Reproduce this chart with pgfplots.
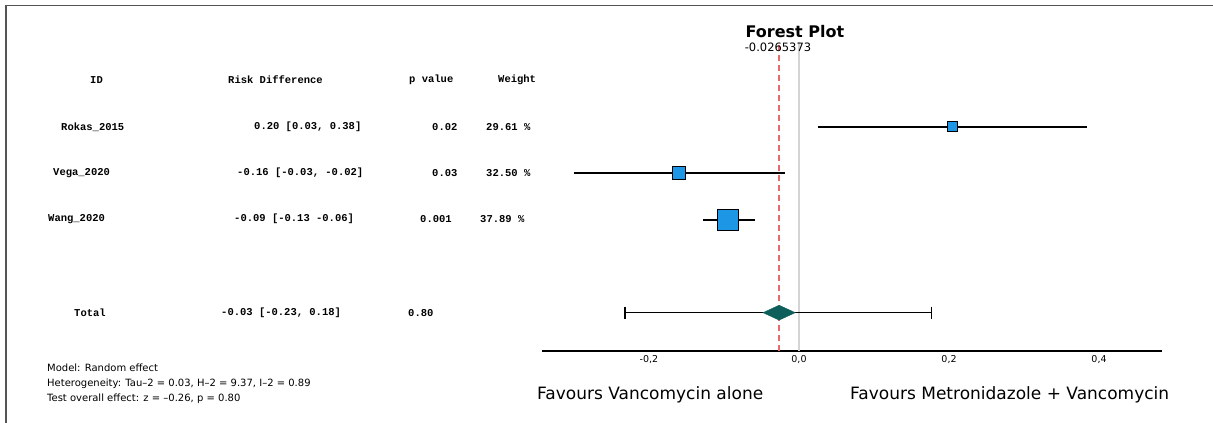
\documentclass[border=0pt]{standalone}
\usepackage{fontspec}
\usepackage{pgfplots}
\pgfplotsset{compat=1.18}
\setmainfont{DejaVu Sans}
\newfontfamily\monofont{Liberation Mono}
\definecolor{sqblue}{HTML}{1E96E6}
\definecolor{diamteal}{HTML}{0E5F5C}
\definecolor{refred}{HTML}{E86A6A}
\definecolor{zerogray}{HTML}{D4D4D4}
\definecolor{framegray}{HTML}{555555}
\begin{document}
\begin{tikzpicture}[x=1pt,y=1pt]
\useasboundingbox (0,0) rectangle (1213,423);
\draw[framegray, line width=1.8pt] (6,0) -- (6,417.5) -- (1213,417.5);
\begin{axis}[
  at={(542pt,72pt)}, anchor=south west,
  scale only axis, width=619.7pt, height=309pt,
  xmin=-0.34267, xmax=0.4836, ymin=-0.824, ymax=5.82,
  axis x line=bottom, axis y line=none,
  axis line style={black, line width=1.2pt, -},
  xtick={-0.2,0,0.2,0.4}, xticklabels={{-0,2},{0,0},{0,2},{0,4}},
  major tick length=0,
  /pgf/number format/assume math mode=true,
  xticklabel style={font=\fontsize{9.5}{11}\selectfont, yshift=-1pt},
  clip=false,
]
\addplot[zerogray, line width=2pt] coordinates {(0,-0.824) (0,5.82)};
% study squares
\addplot[only marks, mark=square*, mark size=5pt, mark options={fill=sqblue, draw=black, line width=0.8pt}] coordinates {(0.205,4)};
\addplot[only marks, mark=square*, mark size=6.5pt, mark options={fill=sqblue, draw=black, line width=0.8pt}] coordinates {(-0.16,3)};
\addplot[only marks, mark=square*, mark size=10.5pt, mark options={fill=sqblue, draw=black, line width=0.8pt}] coordinates {(-0.0943,2)};
% confidence intervals
\addplot[black, line width=1.8pt] coordinates {(0.025,4) (0.384,4)};
\addplot[black, line width=1.8pt] coordinates {(-0.300,3) (-0.019,3)};
\addplot[black, line width=1.8pt] coordinates {(-0.128,2) (-0.0587,2)};
% pooled estimate line
\addplot[refred, line width=1.3pt, dash pattern=on 6pt off 4pt] coordinates {(-0.0265373,-0.824) (-0.0265373,5.82)};
% total
\addplot[black, line width=1.2pt] coordinates {(-0.232,0) (0.177,0)};
\addplot[only marks, mark=|, mark size=6pt, mark options={line width=1.2pt, black}] coordinates {(-0.232,0) (0.177,0)};
\addplot[fill=diamteal, draw=diamteal] coordinates {(-0.048,0) (-0.0265,0.16) (-0.005,0) (-0.0265,-0.16)} -- cycle;
\end{axis}
% titles
\node[font=\bfseries\fontsize{16}{18}\selectfont] at (795,391) {Forest Plot};
\node[font=\fontsize{11.5}{13}\selectfont] at (778,376) {-0.0265373};
% table text
\begin{scope}[every node/.style={anchor=west, inner sep=0pt, font=\monofont\bfseries\fontsize{10.5}{12}\selectfont}]
\node at (90,343) {ID};
\node at (228,343) {Risk Difference};
\node at (409,343) {p value};
\node at (498,343) {Weight};
\node at (61,296) {Rokas\_2015};
\node at (254,296) {0.20 [0.03, 0.38]};
\node at (432,296) {0.02};
\node at (486,296) {29.61 \%};
\node at (53,250) {Vega\_2020};
\node at (237,250) {-0.16 [-0.03, -0.02]};
\node at (432,250) {0.03};
\node at (486,250) {32.50 \%};
\node at (48,204) {Wang\_2020};
\node at (234,204) {-0.09 [-0.13 -0.06]};
\node at (420,204) {0.001};
\node at (480,204) {37.89 \%};
\node at (74,110) {Total};
\node at (221,110) {-0.03 [-0.23, 0.18]};
\node at (408,110) {0.80};
\end{scope}
\begin{scope}[every node/.style={anchor=west, inner sep=0pt, font=\fontsize{10}{12}\selectfont}]
\node at (47,55) {Model: Random effect};
\node at (47,39) {Heterogeneity: Tau–2 = 0.03, H–2 = 9.37, I–2 = 0.89};
\node at (47,24) {Test overall effect: z = –0.26, p = 0.80};
\end{scope}
\node[anchor=west, inner sep=0pt, font=\fontsize{17}{20}\selectfont] at (537,28) {Favours Vancomycin alone};
\node[anchor=west, inner sep=0pt, font=\fontsize{17}{20}\selectfont] at (850,28) {Favours Metronidazole + Vancomycin};
\end{tikzpicture}
\end{document}
